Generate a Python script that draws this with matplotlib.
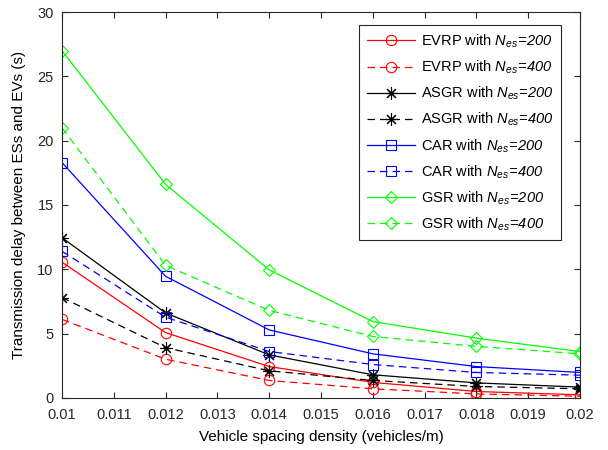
import matplotlib
matplotlib.use("Agg")
import matplotlib.pyplot as plt
import numpy as np

plt.rcParams['font.family'] = ['Liberation Sans', 'DejaVu Sans']
plt.rcParams['mathtext.fontset'] = 'custom'
plt.rcParams['mathtext.rm'] = 'Liberation Sans:italic'
plt.rcParams['mathtext.it'] = 'Liberation Sans:italic'

density = [0.01, 0.012, 0.014, 0.016, 0.018, 0.02]

evrp_200 = [10.55, 5.07, 2.43, 1.2, 0.49, 0.23]
evrp_400 = [6.1, 3.0, 1.35, 0.7, 0.3, 0.12]
asgr_200 = [12.45, 6.6, 3.34, 1.79, 1.16, 0.83]
asgr_400 = [7.8, 3.9, 2.1, 1.35, 0.88, 0.7]
car_200 = [18.3, 9.45, 5.28, 3.42, 2.43, 1.97]
car_400 = [11.4, 6.27, 3.6, 2.59, 1.97, 1.76]
gsr_200 = [27.0, 16.6, 9.95, 5.93, 4.64, 3.6]
gsr_400 = [21.0, 10.3, 6.8, 4.77, 4.0, 3.42]

series = [
    ("EVRP", "200", evrp_200, "red", "o", "-"),
    ("EVRP", "400", evrp_400, "red", "o", "--"),
    ("ASGR", "200", asgr_200, "black", (8, 2, 0), "-"),
    ("ASGR", "400", asgr_400, "black", (8, 2, 0), "--"),
    ("CAR", "200", car_200, "blue", "s", "-"),
    ("CAR", "400", car_400, "blue", "s", "--"),
    ("GSR", "200", gsr_200, "#00ff00", "D", "-"),
    ("GSR", "400", gsr_400, "#00ff00", "D", "--"),
]

fig = plt.figure(figsize=(6.08, 4.5), dpi=100)
ax = fig.add_axes([0.102, 0.116, 0.852, 0.857])

for name, nes, vals, col, mk, ls in series:
    ms = {"o": 7.5, "s": 6.5, "D": 6.5}.get(mk, 9)
    line, = ax.plot(density, vals, color=col, marker=mk, markersize=ms,
                    markerfacecolor="none", markeredgecolor=col, markeredgewidth=0.8,
                    linewidth=0.9, linestyle=ls,
                    label=name + r" with $N_{es}\!=\!" + nes + "$")
    if ls == "--":
        line.set_dashes((6, 4))

ax.set_xlim(0.01, 0.02)
ax.set_ylim(0, 30)
ax.set_xticks(np.arange(0.01, 0.0201, 0.001))
ax.set_xticklabels(["0.01", "0.011", "0.012", "0.013", "0.014", "0.015",
                    "0.016", "0.017", "0.018", "0.019", "0.02"])
ax.set_yticks(np.arange(0, 31, 5))
ax.tick_params(direction="in", top=True, right=True, labelsize=10.5, colors="#262626", length=4)
ax.tick_params(axis="x", pad=7)
ax.tick_params(axis="y", pad=6)
for s in ax.spines.values():
    s.set_color("#262626")
    s.set_linewidth(0.8)

ax.set_xlabel("Vehicle spacing density (vehicles/m)", fontsize=11, labelpad=6)
ax.set_ylabel("Transmission delay between ESs and EVs (s)", fontsize=11, labelpad=8)

leg = ax.legend(loc="upper right", fontsize=10.5, fancybox=False, framealpha=1,
                edgecolor="#262626", handlelength=3.3, handletextpad=0.4, borderpad=0.5,
                labelspacing=0.6, bbox_to_anchor=(0.977, 0.985))
leg.get_frame().set_linewidth(0.8)

fig.savefig("out.png", dpi=100)
